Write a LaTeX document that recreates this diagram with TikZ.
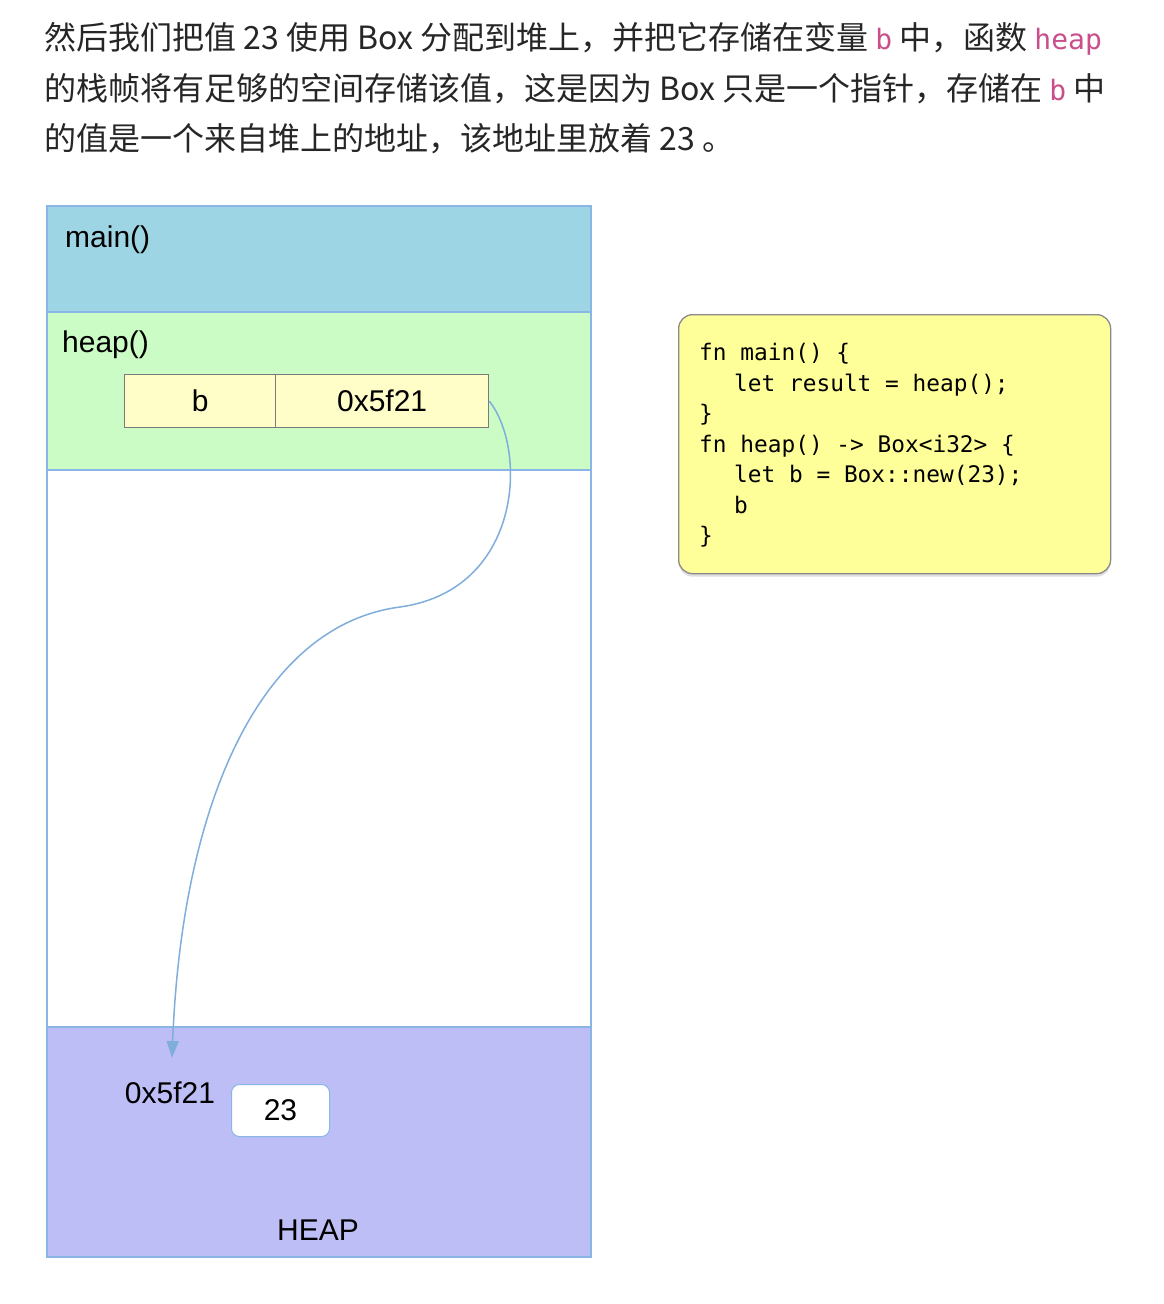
\documentclass[tikz,border=0pt]{standalone}
\usepackage{fontspec}
\setmainfont{Noto Sans CJK SC}
\newfontfamily\labfont{Liberation Sans}
\newfontfamily\codefont{DejaVu Sans Mono}
\usetikzlibrary{arrows.meta,shadows}
\definecolor{mainblue}{HTML}{9ED5E4}
\definecolor{heapgreen}{HTML}{CCFCC5}
\definecolor{lav}{HTML}{BEBEF7}
\definecolor{framecol}{HTML}{8AB6E6}
\definecolor{varfill}{HTML}{FFFDC8}
\definecolor{varborder}{HTML}{7A7A7A}
\definecolor{codefill}{HTML}{FFFF99}
\definecolor{codeborder}{HTML}{8A8A8A}
\definecolor{pinkcode}{HTML}{C94E8A}
\definecolor{txt}{HTML}{262626}
\definecolor{ptrcol}{HTML}{7FAEDD}
\newcommand{\pk}[1]{{\codefont\fontsize{28}{28}\selectfont\color{pinkcode}#1}}
\begin{document}
\begin{tikzpicture}[x=1pt,y=-1pt,
  region/.style={draw=framecol, line width=1.5pt, inner sep=0pt, minimum width=544pt, anchor=north west},
  varbox/.style={draw=varborder, fill=varfill, line width=1.3pt, inner sep=0pt, minimum height=53pt, anchor=north west, font=\labfont\fontsize{30}{30}\selectfont},
  lab/.style={inner sep=0pt, font=\labfont\fontsize{30}{30}\selectfont, text=black},
  para/.style={inner sep=0pt, anchor=base west, font=\fontsize{32}{32}\selectfont, text=txt},
  codeline/.style={inner sep=0pt, anchor=base west, font=\codefont\fontsize{22.8}{22.8}\selectfont, text=black},
  ptr/.style={draw=ptrcol, line width=1.5pt, -{Triangle[length=17pt,width=12pt]}}
]
\useasboundingbox (0,0) rectangle (1164,1304);

% paragraph
\node[para] (p1) at (44,49) {然后我们把值 23 使用 Box 分配到堆上，并把它存储在变量 \pk{b} 中，函数 \pk{heap}};
\node[para] (p2) at (44,100) {的栈帧将有足够的空间存储该值，这是因为 Box 只是一个指针，存储在 \pk{b} 中};
\node[para] (p3) at (44,150) {的值是一个来自堆上的地址，该地址里放着 23 。};

% stack frames
\node[region, fill=mainblue, minimum height=106pt] (mainfr) at (46,205) {};
\node[region, fill=heapgreen, minimum height=158pt] (heapfr) at (46,311) {};
\node[region, fill=white, minimum height=557pt] (freefr) at (46,469) {};
\node[region, fill=lav, minimum height=230pt] (heaparea) at (46,1026) {};

\node[lab, anchor=base west] (mainlab) at (65,247) {main()};
\node[lab, anchor=base west] (heaplab) at (62,352) {heap()};

\node[varbox, minimum width=151pt] (var) at (124,374) {b};
\node[varbox, minimum width=213pt] (val) at (275,374) {0x5f21};

% heap contents
\node[lab, anchor=base] (addr) at (170,1103) {0x5f21};
\node[draw=framecol, fill=white, rounded corners=8pt, line width=1pt, minimum width=98pt, minimum height=52pt, inner sep=0pt, anchor=north west, font=\labfont\fontsize{30}{30}\selectfont] (cell) at (231,1084) {23};
\node[lab, anchor=base] (heaptitle) at (318,1240) {HEAP};

% pointer
\coordinate (bend) at (400,607);
\coordinate (tip) at (172,1058);
\draw[ptr] (val.east) .. controls (528,450) and (522,590) .. (bend)
  .. controls (262,625) and (182,800) .. (tip);

% code box
\node[draw=codeborder, fill=codefill, line width=1.3pt, rounded corners=14pt, minimum width=432pt, minimum height=259pt, anchor=north west, inner sep=0pt,
  drop shadow={opacity=0.25, shadow xshift=0pt, shadow yshift=-3pt}] (code) at (678,314) {};
\node[codeline] (c1) at (699,360) {fn main() \{};
\node[codeline] (c2) at (734,391) {let result = heap();};
\node[codeline] (c3) at (699,421) {\}};
\node[codeline] (c4) at (699,452) {fn heap() -> Box<i32> \{};
\node[codeline] (c5) at (734,482) {let b = Box::new(23);};
\node[codeline] (c6) at (734,513) {b};
\node[codeline] (c7) at (699,543) {\}};
\end{tikzpicture}
\end{document}
